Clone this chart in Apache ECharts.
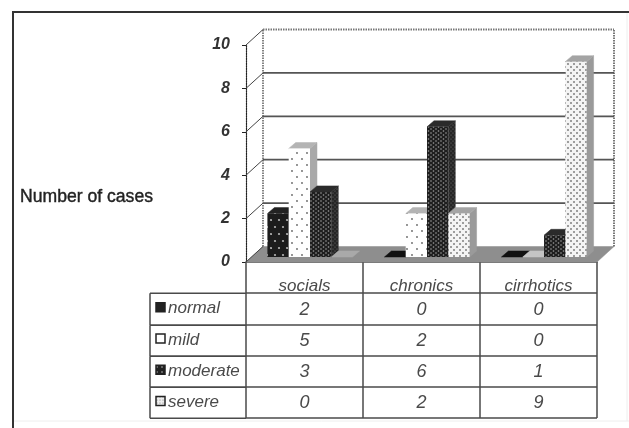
<!DOCTYPE html>
<html>
<head>
<meta charset="utf-8">
<style>
html, body { margin: 0; padding: 0; background: #fff; }
#chart { width: 629px; height: 428px; filter: blur(0.6px); }
</style>
<script src="https://cdn.jsdelivr.net/npm/echarts@6/dist/echarts.min.js"></script>
</head>
<body>
<div id="chart"></div>
<script>
const categories = ["socials", "chronics", "cirrhotics"];
const rowNames = ["normal", "mild", "moderate", "severe"];
const normal = [2, 0, 0];
const mild = [5, 2, 0];
const moderate = [3, 6, 1];
const severe = [0, 2, 9];
const yTicks = [0, 2, 4, 6, 8, 10];

const rows = [normal, mild, moderate, severe];
const font = "Liberation Sans";
const lineColor = "#4a4a4a";
const textColor = "#4a4a4a";

// box depth of the 3d look, in pixels
const wallX = 17, wallY = 15.5;
const barShiftX = 5.5, barShiftY = 5;
const barDepthX = 7, barDepthY = 6;

const makePattern = (bg, fg, w, h, dots, r) => {
    const c = document.createElement("canvas");
    c.width = w;
    c.height = h;
    const ctx = c.getContext("2d");
    ctx.fillStyle = bg;
    ctx.fillRect(0, 0, w, h);
    ctx.fillStyle = fg;
    dots.forEach(([x, y]) => {
        ctx.beginPath();
        ctx.arc(x, y, r, 0, Math.PI * 2);
        ctx.fill();
    });
    return { image: c, repeat: "repeat" };
};

const looks = [
    {
        front: makePattern("#1c1c1c", "#b4b4b4", 16, 14, [[3, 3], [11, 3], [7, 10], [15, 10]], 1.1),
        top: "#222", side: "#161616", flat: "#111",
    },
    {
        front: makePattern("#fff", "#666", 10, 12, [[2, 3], [7, 9]], 0.9),
        top: "#b4b4b4", side: "#a9a9a9", flat: "#c4c4c4",
    },
    {
        front: makePattern("#1e1e1e", "#a0a0a0", 5, 4, [[1, 1], [3.5, 3]], 0.8),
        top: "#2b2b2b", side: makePattern("#262626", "#777", 4, 4, [[1, 1], [3, 3]], 0.6), flat: "#222",
    },
    {
        front: makePattern("#f4f4f4", "#808080", 6, 6, [[1, 1], [4, 4]], 1),
        top: "#a4a4a4", side: "#9a9a9a", flat: "#a9a9a9",
    },
];

const swatches = [
    { fill: "#222", stroke: "#222" },
    { fill: "#fff", stroke: "#222" },
    { fill: makePattern("#222", "#bbb", 5, 5, [[2, 2]], 0.8), stroke: "#222" },
    { fill: makePattern("#eee", "#777", 3, 3, [[1, 1]], 0.6), stroke: "#222" },
];

const poly = (points, fill, stroke) => ({
    type: "polygon",
    shape: { points },
    style: { fill, stroke: stroke || fill, lineWidth: 0.5 },
});

const line = (x1, y1, x2, y2, stroke, lineWidth, lineDash) => ({
    type: "line",
    shape: { x1, y1, x2, y2 },
    style: { stroke, lineWidth, lineDash: lineDash || null },
});

// floor and side/back wall frame
const renderBox = (params, api) => {
    const unit = api.size([1, 0])[0];
    const [x0, y0] = api.coord([0, 0]);
    const left = x0 - unit / 2;
    const right = api.coord([2, 0])[0] + unit / 2;
    const top = api.coord([0, 10])[1];
    return {
        type: "group",
        children: [
            poly([[left, y0], [left + wallX, y0 - wallY], [right + wallX, y0 - wallY], [right, y0]], "#8e8e8e"),
            line(left + wallX, y0 - wallY, left + wallX, top - wallY, "#333", 1.2, [1.5, 1]),
            line(right + wallX, y0 - wallY, right + wallX, top - wallY, "#777", 2, [1.5, 1]),
            line(left + wallX, top - wallY, right + wallX, top - wallY, "#777", 2, [1.5, 1]),
        ],
    };
};

// one gridline on the back wall plus its step on the side wall
const renderGrid = (params, api) => {
    const unit = api.size([1, 0])[0];
    const v = api.value(1);
    const [x0, y] = api.coord([0, v]);
    const left = x0 - unit / 2;
    const right = api.coord([2, v])[0] + unit / 2;
    const children = [line(left, y, left + wallX, y - wallY, "#444", 1)];
    if (v > 0 && v < 10) {
        children.push(line(left + wallX, y - wallY, right + wallX, y - wallY, "#555", 1.8));
    }
    return { type: "group", children };
};

const renderBar = (look, barIndex) => (params, api) => {
    const unit = api.size([1, 0])[0];
    const barW = unit * 0.182;
    const [cx, top] = api.coord([api.value(0), api.value(1)]);
    const base = api.coord([api.value(0), 0])[1] - barShiftY;
    const y = top - barShiftY;
    const x = cx + barShiftX - barW * 2 + barW * barIndex;
    const dx = barDepthX, dy = barDepthY;
    const topFace = [[x, y], [x + barW, y], [x + barW + dx, y - dy], [x + dx, y - dy]];
    if (api.value(1) === 0) {
        return { type: "group", children: [poly(topFace, look.flat)] };
    }
    return {
        type: "group",
        children: [
            poly([[x + barW, y], [x + barW + dx, y - dy], [x + barW + dx, base - dy], [x + barW, base]], look.side),
            poly(topFace, look.top),
            { type: "rect", shape: { x, y, width: barW, height: base - y }, style: { fill: look.front } },
        ],
    };
};

// row header box with the legend key, left of the value cells
const renderRowHead = (params, api) => {
    const unit = api.size([1, 0])[0];
    const rowH = api.size([0, 1])[1];
    const row = api.value(1);
    const [x0, yc] = api.coord([0, row]);
    const left = x0 - unit / 2;
    const headLeft = left - 96;
    // sit on the same pixel row as the axis split lines
    const top = Math.ceil(yc - rowH / 2 - 0.01) + 0.25;
    const bottom = Math.ceil(yc + rowH / 2 - 0.01) + 0.25;
    const key = swatches[row];
    return {
        type: "group",
        children: [
            line(headLeft, top, left, top, lineColor, 1.5),
            line(headLeft, bottom, left, bottom, lineColor, 1.5),
            line(headLeft, top, headLeft, bottom, lineColor, 1.5),
            {
                type: "rect",
                shape: { x: headLeft + 6, y: yc - 6, width: 9, height: 9 },
                style: { fill: key.fill, stroke: key.stroke, lineWidth: 1.5 },
            },
        ],
    };
};

const renderCell = (params, api) => {
    const [x, y] = api.coord([api.value(0), api.value(1)]);
    return {
        type: "text",
        x,
        y: y + 1,
        style: {
            text: String(api.value(2)),
            fill: textColor,
            font: `italic 18px "${font}"`,
            align: "center",
            verticalAlign: "middle",
        },
    };
};

const cellData = [];
rows.forEach((values, r) => values.forEach((v, c) => cellData.push([c, r, v])));

const chart = echarts.init(document.getElementById("chart"));
chart.setOption({
    animation: false,
    backgroundColor: "#fff",
    title: {
        text: "Number of cases",
        left: 20,
        top: 188,
        padding: 0,
        textStyle: {
            fontFamily: font,
            fontSize: 17.6,
            fontWeight: "normal",
            color: "#222",
            textBorderColor: "#222",
            textBorderWidth: 0.4,
        },
    },
    grid: [
        { left: 246, top: 45, width: 351, height: 217 },
        { left: 246, top: 293, width: 351, height: 125 },
    ],
    xAxis: [
        {
            type: "category",
            gridIndex: 0,
            data: categories,
            axisLine: { lineStyle: { color: lineColor, width: 1.5 } },
            axisTick: { show: true, length: 31, lineStyle: { color: lineColor, width: 1.5 } },
            axisLabel: { margin: 16, fontFamily: font, fontSize: 17, fontStyle: "italic", color: textColor },
        },
        {
            type: "category",
            gridIndex: 1,
            data: categories,
            axisLine: { show: false },
            axisTick: { show: false },
            axisLabel: { show: false },
            splitLine: { show: true, lineStyle: { color: lineColor, width: 1.5 } },
        },
    ],
    yAxis: [
        {
            type: "value",
            gridIndex: 0,
            min: 0,
            max: 10,
            interval: 2,
            axisLine: { show: true, lineStyle: { color: "#222", width: 1.2, type: [1.5, 1] } },
            axisTick: { show: true, length: 4, lineStyle: { color: "#222" } },
            axisLabel: {
                margin: 16,
                fontFamily: font,
                fontSize: 16,
                fontStyle: "italic",
                fontWeight: "bold",
                color: "#333",
                formatter: (v) => (yTicks.includes(v) ? String(v) : ""),
            },
            splitLine: { show: false },
        },
        {
            type: "category",
            gridIndex: 1,
            inverse: true,
            data: rowNames,
            axisLine: { show: false },
            axisTick: { show: false },
            axisLabel: {
                margin: 78,
                align: "left",
                fontFamily: font,
                fontSize: 17,
                fontStyle: "italic",
                color: textColor,
            },
            splitLine: { show: true, lineStyle: { color: lineColor, width: 1.5 } },
        },
    ],
    series: [
        { type: "custom", name: "box", renderItem: renderBox, data: [[0, 0]], silent: true },
        { type: "custom", name: "grid", renderItem: renderGrid, data: yTicks.map((v) => [0, v]), silent: true },
        ...rows.map((values, i) => ({
            type: "custom",
            name: rowNames[i],
            renderItem: renderBar(looks[i], i),
            data: values.map((v, c) => [c, v]),
            silent: true,
        })),
        {
            type: "custom",
            name: "rowHeads",
            xAxisIndex: 1,
            yAxisIndex: 1,
            renderItem: renderRowHead,
            data: rowNames.map((n, r) => [0, r]),
            silent: true,
        },
        {
            type: "custom",
            name: "cells",
            xAxisIndex: 1,
            yAxisIndex: 1,
            renderItem: renderCell,
            data: cellData,
            silent: true,
        },
    ],
    graphic: [
        { type: "line", shape: { x1: 12, y1: 12, x2: 629, y2: 12 }, style: { stroke: "#333", lineWidth: 2 } },
        { type: "line", shape: { x1: 13, y1: 11, x2: 13, y2: 428 }, style: { stroke: "#333", lineWidth: 2 } },
        { type: "line", shape: { x1: 14, y1: 421, x2: 629, y2: 421 }, style: { stroke: "#eee", lineWidth: 1 } },
        { type: "line", shape: { x1: 627, y1: 13, x2: 627, y2: 421 }, style: { stroke: "#eee", lineWidth: 1 } },
    ],
});
</script>
</body>
</html>
